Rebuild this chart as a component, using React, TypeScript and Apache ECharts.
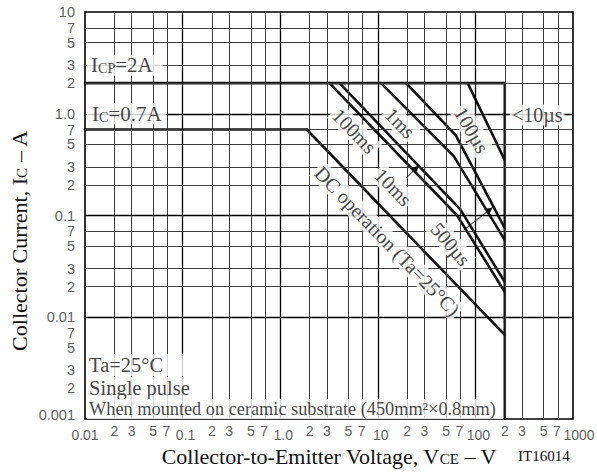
import React, { useEffect, useRef } from "react";
import * as echarts from "echarts";

// ---------- axes ----------
const X_MIN = 0.01;
const X_MAX = 1000;
const Y_MIN = 0.001;
const Y_MAX = 10;
const xDecades = [0.01, 0.1, 1, 10, 100, 1000];
const xDecadeLabels = ["0.01", "0.1", "1.0", "10", "100", "1000"];
const yDecades = [0.001, 0.01, 0.1, 1, 10];
const yDecadeLabels = ["0.001", "0.01", "0.1", "1.0", "10"];
const minorSteps = [2, 3, 5, 7];
const minorLabels = ["2", "3", "5", "7"];

// ---------- curves (V, A) ----------
const icpLimit = [[0.01, 2], [200, 2], [200, 0.001]];
const icLimit = [[0.01, 0.7], [1.87, 0.7]];
const dcOperation = [[1.87, 0.7], [200, 0.0067]];
const pulse100ms = [[3.2, 2], [65, 0.1], [200, 0.0177]];
const pulse10ms = [[4.05, 2], [70, 0.115], [200, 0.0222]];
const pulse1ms = [[10.8, 2], [60, 0.383], [200, 0.0573]];
const pulse500us = [[19.5, 2], [62.8, 0.616], [200, 0.0752]];
const pulse100us = [[83.4, 2], [200, 0.35]];

// ---------- annotation texts ----------
const curveLabelTexts = ["100ms", "10ms", "1ms", "500µs", "100µs", "<10µs", "DC operation (Ta=25°C)"];
const curveLabelAt = [[5.75, 0.675], [14.35, 0.19], [16.9, 0.81], [55.9, 0.0524], [91.5, 0.69], [430, 0.97], [12.5, 0.056]];
const curveLabelAngle = [-46, -46, -46, -50, -60, 0, -46];
const arrowFrom = [[19.5, 0.233], [75.9, 0.0719]];
const arrowTo = [[26.4, 0.31], [150, 0.12]];
const noteTexts = ["Ta=25°C", "Single pulse", "When mounted on ceramic substrate (450mm²×0.8mm)"];
const noteAt = [[0.0105, 0.00339], [0.0105, 0.002016], [0.0105, 0.001254]];

const serif = "'Liberation Serif', 'Times New Roman', serif";
const sans = "'Liberation Sans', Arial, sans-serif";
const ink = "#111";

const rich = {
  n: { fontFamily: serif, fontSize: 20, fontWeight: "normal", color: ink, lineHeight: 21 },
  b: { fontFamily: serif, fontSize: 21, fontWeight: "normal", color: ink, lineHeight: 21 },
  c: { fontFamily: serif, fontSize: 20.5, fontWeight: "normal", color: ink, lineHeight: 21 },
  q: { fontFamily: serif, fontSize: 18.3, fontWeight: "normal", color: ink, lineHeight: 20 },
  x: { fontFamily: serif, fontSize: 22, fontWeight: "normal", color: ink, lineHeight: 20 },
  s: { fontFamily: serif, fontSize: 14, fontWeight: "normal", color: ink, lineHeight: 14, verticalAlign: "bottom" },
  u: { fontFamily: serif, fontSize: 15, fontWeight: "normal", color: ink, lineHeight: 15, verticalAlign: "bottom" },
};

function buildOption() {
  const minorX = xDecades.slice(0, -1).flatMap((d) => minorSteps.map((m) => d * m));
  const minorY = yDecades.slice(0, -1).flatMap((d) => minorSteps.map((m) => d * m));
  const minorLine = { color: "#3c3c3c", width: 1, type: "solid" };
  const majorLine = { color: "#000", width: 1.3, type: "solid" };

  const gridSeries = {
    type: "line",
    data: [[X_MIN, Y_MIN]],
    symbol: "none",
    lineStyle: { opacity: 0 },
    silent: true,
    z: 1,
    markLine: {
      silent: true,
      symbol: ["none", "none"],
      label: { show: false },
      emphasis: { disabled: true },
      data: [
        ...minorX.map((v) => ({ xAxis: v, lineStyle: minorLine })),
        ...minorY.map((v) => ({ yAxis: v, lineStyle: minorLine })),
        ...xDecades.slice(1, -1).map((v) => ({ xAxis: v, lineStyle: majorLine })),
        ...yDecades.slice(1, -1).map((v) => ({ yAxis: v, lineStyle: majorLine })),
      ],
    },
  };

  const curve = (name: string, data: number[][]) => ({
    type: "line",
    name,
    data,
    symbol: "none",
    silent: true,
    z: 3,
    lineStyle: { color: ink, width: 2.6, cap: "round", join: "round" },
  });

  const arrowSeries = {
    type: "line",
    data: [[X_MIN, Y_MIN]],
    symbol: "none",
    lineStyle: { opacity: 0 },
    silent: true,
    z: 4,
    markLine: {
      silent: true,
      symbol: ["none", "arrow"],
      symbolSize: [6, 8],
      label: { show: false },
      lineStyle: { color: ink, width: 1, type: "solid" },
      emphasis: { disabled: true },
      data: arrowFrom.map((f, i) => [{ coord: f }, { coord: arrowTo[i] }]),
    },
  };

  // tick labels
  const tickData: any[] = [];
  xDecades.forEach((d, i) => {
    tickData.push({
      value: [d, Y_MIN],
      label: {
        formatter: xDecadeLabels[i],
        offset: [i === 0 ? 0 : i === xDecades.length - 1 ? 6 : 3, 16],
        align: "center",
        fontSize: 14,
      },
    });
    if (i < xDecades.length - 1) {
      minorSteps.forEach((m, j) =>
        tickData.push({
          value: [d * m, Y_MIN],
          label: { formatter: minorLabels[j], offset: [j === 3 ? -1 : 0, 12], align: "center", fontSize: 14 },
        })
      );
    }
  });
  yDecades.forEach((d, i) => {
    tickData.push({
      value: [X_MIN, d],
      label: { formatter: yDecadeLabels[i], offset: [-10, i === 0 ? -4 : 0], align: "right" },
    });
    if (i < yDecades.length - 1) {
      minorSteps.forEach((m, j) =>
        tickData.push({
          value: [X_MIN, d * m],
          label: { formatter: minorLabels[j], offset: [-10, 0], align: "right" },
        })
      );
    }
  });

  const tickSeries = {
    type: "scatter",
    data: tickData,
    symbolSize: 1,
    itemStyle: { color: "rgba(0,0,0,0)" },
    silent: true,
    clip: false,
    z: 6,
    label: {
      show: true,
      position: "inside",
      verticalAlign: "middle",
      fontFamily: sans,
      fontSize: 14.5,
      lineHeight: 12,
      color: "#333",
    },
  };

  // annotations
  const annData: any[] = [];
  annData.push({
    value: [0.0105, 3],
    label: { formatter: "{b|I}{s|CP}{b|=2A}", align: "left", padding: [0, 10, 0, 4] },
  });
  annData.push({
    value: [0.0105, 1],
    label: { formatter: "{b|I}{s|C}{b|=0.7A}", align: "left", padding: [0, 4, 0, 5] },
  });
  curveLabelTexts.forEach((t, i) => {
    annData.push({
      value: curveLabelAt[i],
      label: {
        formatter: "{n|" + t + "}",
        align: "center",
        rotate: curveLabelAngle[i],
        padding: [0, 2, 0, 2],
      },
    });
  });
  noteTexts.forEach((t, i) => {
    annData.push({
      value: noteAt[i],
      label: {
        formatter: (i < 2 ? "{c|" : "{q|") + t + "}",
        align: "left",
        padding: [0, 0, 0, 2],
        width: i < 2 ? 114 : 414,
        height: i < 2 ? 22 : 20,
      },
    });
  });

  const annSeries = {
    type: "scatter",
    data: annData,
    symbolSize: 1,
    itemStyle: { color: "rgba(0,0,0,0)" },
    silent: true,
    clip: false,
    z: 5,
    label: {
      show: true,
      position: "inside",
      verticalAlign: "middle",
      backgroundColor: "#fff",
      rich,
    },
  };

  return {
    animation: false,
    backgroundColor: "#fff",
    grid: {
      left: 82,
      top: 12,
      width: 491,
      height: 407,
      show: true,
      borderColor: "#000",
      borderWidth: 1.6,
      backgroundColor: "#fff",
      containLabel: false,
    },
    xAxis: {
      type: "log",
      logBase: 10,
      min: X_MIN,
      max: X_MAX,
      axisLine: { show: false },
      axisTick: { show: false },
      axisLabel: { show: false },
      splitLine: { show: false },
      name: "{x|Collector-to-Emitter Voltage, V}{u|CE}{x| – V}",
      nameLocation: "middle",
      nameGap: 27,
      nameTextStyle: { fontWeight: "normal", rich },
    },
    yAxis: {
      type: "log",
      logBase: 10,
      min: Y_MIN,
      max: Y_MAX,
      axisLine: { show: false },
      axisTick: { show: false },
      axisLabel: { show: false },
      splitLine: { show: false },
      name: "{x|Collector Current, I}{u|C}{x| – A}",
      nameLocation: "middle",
      nameRotate: 90,
      nameGap: 56,
      nameTextStyle: { fontWeight: "normal", padding: [0, 50, 0, 0], rich },
    },
    graphic: [
      {
        type: "text",
        x: 518,
        y: 456,
        style: { text: "IT16014", fontFamily: serif, fontSize: 15, fill: ink, textVerticalAlign: "middle" },
      },
      {
        type: "text",
        x: 326,
        y: 3,
        style: {
          text: "A S O",
          fontFamily: sans,
          fontSize: 22,
          fill: "#333",
          textAlign: "center",
          textVerticalAlign: "bottom",
        },
      },
    ],
    series: [
      gridSeries,
      curve("ICP", icpLimit),
      curve("IC", icLimit),
      curve("DC", dcOperation),
      curve("100ms", pulse100ms),
      curve("10ms", pulse10ms),
      curve("1ms", pulse1ms),
      curve("500us", pulse500us),
      curve("100us", pulse100us),
      arrowSeries,
      annSeries,
      tickSeries,
    ],
  };
}

export default function App() {
  const ref = useRef<HTMLDivElement>(null);
  useEffect(() => {
    if (!ref.current) return;
    const chart = echarts.init(ref.current, null, { renderer: "svg" });
    chart.setOption(buildOption() as any);
    return () => chart.dispose();
  }, []);
  return (
    <div
      ref={ref}
      style={{ position: "absolute", left: 0, top: 0, width: 597, height: 475, background: "#fff" }}
    />
  );
}
